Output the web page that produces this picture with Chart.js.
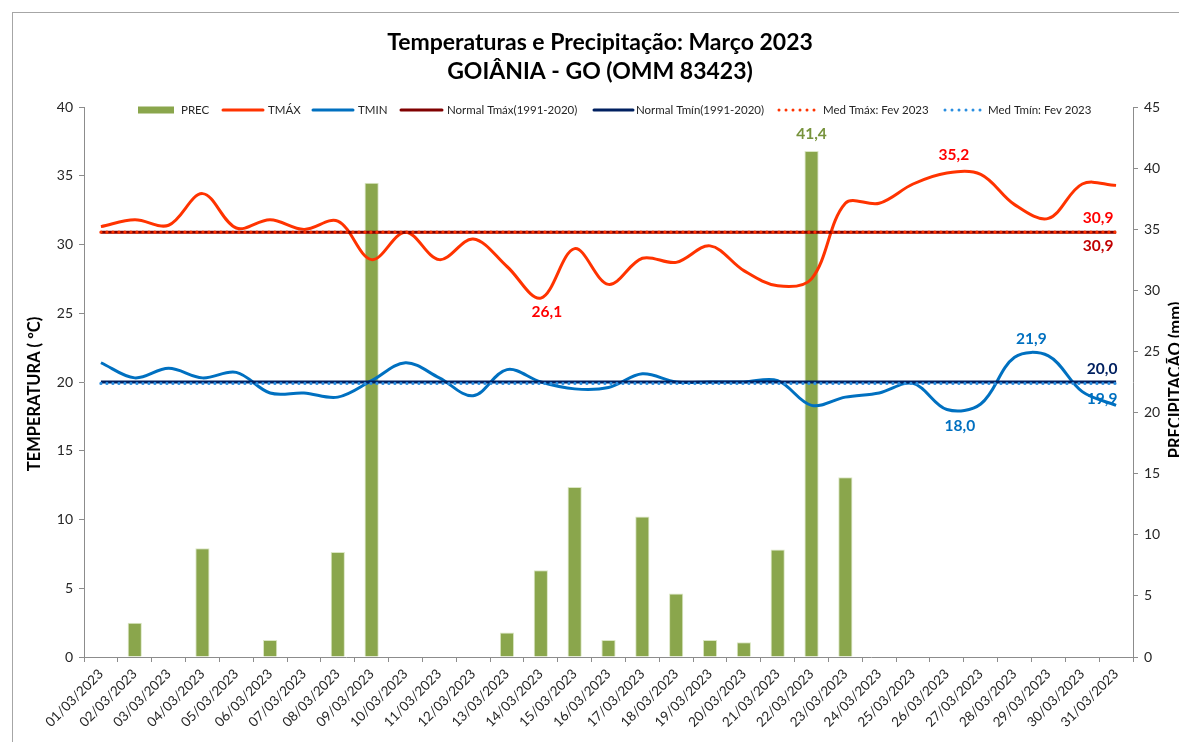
<!DOCTYPE html>
<html>
<head>
<meta charset="utf-8">
<title>Temperaturas e Precipitação: Março 2023</title>
<script src="https://cdn.jsdelivr.net/npm/chart.js@4.4.0/dist/chart.umd.min.js"></script>
<style>
  html, body { margin: 0; padding: 0; background: #fff; }
  #wrap { width: 1179px; height: 742px; }
</style>
</head>
<body>
<div id="wrap"><canvas id="chart" width="1179" height="742"></canvas></div>
<script>
// ── Data ─────────────────────────────────────────────────────────────────────
const DAYS = [
  '01/03/2023','02/03/2023','03/03/2023','04/03/2023','05/03/2023','06/03/2023',
  '07/03/2023','08/03/2023','09/03/2023','10/03/2023','11/03/2023','12/03/2023',
  '13/03/2023','14/03/2023','15/03/2023','16/03/2023','17/03/2023','18/03/2023',
  '19/03/2023','20/03/2023','21/03/2023','22/03/2023','23/03/2023','24/03/2023',
  '25/03/2023','26/03/2023','27/03/2023','28/03/2023','29/03/2023','30/03/2023',
  '31/03/2023'
];
// precipitation, mm (right axis)
const PREC = [0, 2.8, 0, 8.9, 0, 1.4, 0, 8.6, 38.8, 0, 0, 0, 2.0, 7.1, 13.9, 1.4,
              11.5, 5.2, 1.4, 1.2, 8.8, 41.4, 14.7, 0, 0, 0, 0, 0, 0, 0, 0];
// daily max / min temperature, °C (left axis)
const TMAX = [31.3, 31.8, 31.4, 33.7, 31.2, 31.8, 31.1, 31.7, 28.9, 30.9, 28.9, 30.4,
              28.4, 26.1, 29.7, 27.1, 29.0, 28.7, 29.9, 28.1, 27.0, 27.5, 33.0, 33.0,
              34.4, 35.2, 35.1, 32.9, 31.9, 34.4, 34.3];
const TMIN = [21.4, 20.3, 21.0, 20.3, 20.7, 19.2, 19.2, 18.9, 20.1, 21.4, 20.3, 19.0,
              20.9, 20.0, 19.5, 19.6, 20.6, 20.0, 20.0, 20.0, 20.1, 18.3, 18.9, 19.2,
              19.9, 18.0, 18.4, 21.8, 21.9, 19.3, 18.3];
// reference levels
const NORMAL_TMAX = 30.9;   // Normal Tmáx (1991-2020)
const NORMAL_TMIN = 20.0;   // Normal Tmín (1991-2020)
const MED_TMAX    = 30.9;   // Med Tmáx: Fev 2023
const MED_TMIN    = 19.9;   // Med Tmín: Fev 2023
const TEMP_TICKS  = [0, 5, 10, 15, 20, 25, 30, 35, 40];
const PREC_TICKS  = [0, 5, 10, 15, 20, 25, 30, 35, 40, 45];

// ── Styles ───────────────────────────────────────────────────────────────────
const FONT = 'Lato, "Open Sans", sans-serif';
const AXIS_GREY = '#8c8c8c';
const TEXT = '#262626';
const C = {
  prec: '#8aa64c', precEdge: '#dbe7c4',
  tmax: '#ff3300', tmin: '#0070c0',
  normMax: '#800000', normMin: '#002060',
  medMax: '#ff3300', medMin: '#2a8ee0'
};

const flat = v => DAYS.map(() => v);
const fmt = v => v.toFixed(1).replace('.', ',');

// ── Decorations: frame, titles, legend, value labels ─────────────────────────
const decor = {
  id: 'decor',
  beforeDraw(chart) {
    const g = chart.ctx;
    g.save();
    g.strokeStyle = '#a6a6a6';
    g.lineWidth = 1;
    g.strokeRect(12.5, 12.5, 1400, 1000);
    g.restore();
  },
  afterDatasetsDraw(chart) {
    const g = chart.ctx;
    const x = chart.scales.x, yT = chart.scales.yTemp, yP = chart.scales.yPrec;
    const last = DAYS.length - 1;
    const iPrecMax = PREC.indexOf(Math.max(...PREC));
    const iTmaxMax = TMAX.indexOf(Math.max(...TMAX));
    const iTmaxMin = TMAX.indexOf(Math.min(...TMAX));
    const iTminMax = TMIN.indexOf(Math.max(...TMIN));
    const iTminMin = TMIN.indexOf(Math.min(...TMIN));
    const labels = [
      { t: fmt(PREC[iPrecMax]), x: x.getPixelForValue(iPrecMax), y: yP.getPixelForValue(PREC[iPrecMax]) - 17, c: '#77933c' },
      { t: fmt(TMAX[iTmaxMin]), x: x.getPixelForValue(iTmaxMin) + 6, y: yT.getPixelForValue(TMAX[iTmaxMin]) + 14, c: '#ff0000' },
      { t: fmt(TMAX[iTmaxMax]), x: x.getPixelForValue(iTmaxMax) + 7, y: yT.getPixelForValue(TMAX[iTmaxMax]) - 18, c: '#ff0000' },
      { t: fmt(MED_TMAX), x: x.getPixelForValue(last) - 18, y: yT.getPixelForValue(MED_TMAX) - 14, c: '#ff0000' },
      { t: fmt(NORMAL_TMAX), x: x.getPixelForValue(last) - 18, y: yT.getPixelForValue(NORMAL_TMAX) + 14, c: '#c00000' },
      { t: fmt(TMIN[iTminMax]), x: x.getPixelForValue(iTminMax) - 17, y: yT.getPixelForValue(TMIN[iTminMax]) - 17, c: '#0070c0' },
      { t: fmt(TMIN[iTminMin]), x: x.getPixelForValue(iTminMin) + 13, y: yT.getPixelForValue(TMIN[iTminMin]) + 16, c: '#0070c0' },
      { t: fmt(NORMAL_TMIN), x: x.getPixelForValue(last) - 14, y: yT.getPixelForValue(NORMAL_TMIN) - 13, c: '#002060' },
      { t: fmt(MED_TMIN), x: x.getPixelForValue(last) - 14, y: yT.getPixelForValue(MED_TMIN) + 16, c: '#0070c0' }
    ];
    g.save();
    g.font = 'bold 15.5px ' + FONT;
    g.textAlign = 'center';
    g.textBaseline = 'middle';
    labels.forEach(l => { g.fillStyle = l.c; g.fillText(l.t, l.x, l.y); });
    g.restore();
  },
  afterDraw(chart) {
    const g = chart.ctx;
    g.save();
    // titles
    g.fillStyle = '#000';
    g.textAlign = 'center';
    g.textBaseline = 'middle';
    g.font = 'bold 23px ' + FONT;
    g.fillText('Temperaturas e Precipitação: Março 2023', 600, 43);
    g.fillText('GOIÂNIA - GO (OMM 83423)', 600, 72);

    // axis titles
    g.font = 'bold 16.5px ' + FONT;
    g.save();
    g.translate(35, 394); g.rotate(-Math.PI / 2);
    g.fillText('TEMPERATURA ( ºC)', 0, 0);
    g.restore();
    g.save();
    g.translate(1176, 380); g.rotate(-Math.PI / 2);
    g.fillText('PRECIPITAÇÃO (mm)', 0, 0);
    g.restore();

    // legend
    const ly = 110;
    const items = [
      { t: 'PREC', k: 'box', c: C.prec, x0: 138, x1: 174, tx: 181 },
      { t: 'TMÁX', k: 'line', c: C.tmax, x0: 223, x1: 263, tx: 268 },
      { t: 'TMIN', k: 'line', c: C.tmin, x0: 313, x1: 353, tx: 358 },
      { t: 'Normal Tmáx(1991-2020)', k: 'line', c: C.normMax, x0: 401, x1: 442, tx: 447 },
      { t: 'Normal Tmín(1991-2020)', k: 'line', c: C.normMin, x0: 594, x1: 633, tx: 636 },
      { t: 'Med Tmáx: Fev 2023', k: 'dot', c: C.medMax, x0: 779, x1: 816, tx: 823 },
      { t: 'Med Tmín: Fev 2023', k: 'dot', c: C.medMin, x0: 945, x1: 982, tx: 988 }
    ];
    g.textAlign = 'left';
    g.font = '11.5px ' + FONT;
    items.forEach(it => {
      if (it.k === 'box') {
        g.fillStyle = it.c;
        g.fillRect(it.x0, ly - 3.5, it.x1 - it.x0, 7);
      } else {
        g.strokeStyle = it.c;
        g.lineWidth = 3;
        g.lineCap = 'round';
        g.setLineDash(it.k === 'dot' ? [0, 7] : []);
        g.beginPath(); g.moveTo(it.x0, ly); g.lineTo(it.x1, ly); g.stroke();
        g.setLineDash([]);
      }
      g.fillStyle = TEXT;
      g.fillText(it.t, it.tx, ly + 0.5);
    });
    g.restore();
  }
};

// ── Chart ────────────────────────────────────────────────────────────────────
const lineBase = { type: 'line', yAxisID: 'yTemp', pointRadius: 0, fill: false };

new Chart(document.getElementById('chart'), {
  type: 'bar',
  data: {
    labels: DAYS,
    datasets: [
      { type: 'bar', label: 'PREC', data: PREC, yAxisID: 'yPrec', order: 10,
        backgroundColor: C.prec, borderColor: C.precEdge,
        borderWidth: c => (c.raw ? 1 : 0), borderSkipped: 'bottom',
        categoryPercentage: 1, barPercentage: 0.42 },
      { ...lineBase, label: 'TMÁX', data: TMAX, order: 7,
        borderColor: C.tmax, borderWidth: 3, tension: 0.35 },
      { ...lineBase, label: 'TMIN', data: TMIN, order: 6,
        borderColor: C.tmin, borderWidth: 3, tension: 0.35 },
      { ...lineBase, label: 'Normal Tmáx(1991-2020)', data: flat(NORMAL_TMAX), order: 5,
        borderColor: C.normMax, borderWidth: 3 },
      { ...lineBase, label: 'Normal Tmín(1991-2020)', data: flat(NORMAL_TMIN), order: 4,
        borderColor: C.normMin, borderWidth: 3 },
      { ...lineBase, label: 'Med Tmáx: Fev 2023', data: flat(MED_TMAX), order: 3,
        borderColor: C.medMax, borderWidth: 3.2, borderDash: [0, 6], borderCapStyle: 'round' },
      { ...lineBase, label: 'Med Tmín: Fev 2023', data: flat(MED_TMIN), order: 2,
        borderColor: C.medMin, borderWidth: 3.2, borderDash: [0, 6], borderCapStyle: 'round' }
    ]
  },
  options: {
    responsive: false,
    animation: false,
    layout: { padding: { top: 107, left: 0, right: 0, bottom: 0 } },
    plugins: { legend: { display: false }, tooltip: { enabled: false }, title: { display: false } },
    scales: {
      x: {
        offset: true,
        grid: { offset: true, drawOnChartArea: false, drawTicks: true, tickLength: 5, color: AXIS_GREY },
        border: { color: AXIS_GREY, width: 1 },
        ticks: { autoSkip: false, maxRotation: 45, minRotation: 45, padding: 4,
                 color: TEXT, font: { family: FONT, size: 13.5 } },
        afterFit: s => { s.height = 85; }
      },
      yTemp: {
        position: 'left', min: 0, max: 40,
        afterBuildTicks: s => { s.ticks = TEMP_TICKS.map(v => ({ value: v })); },
        grid: { drawOnChartArea: false, tickLength: 5, color: AXIS_GREY },
        border: { color: AXIS_GREY, width: 1 },
        ticks: { padding: 6, color: TEXT, font: { family: FONT, size: 14 } },
        afterFit: s => { s.width = 84; }
      },
      yPrec: {
        position: 'right', min: 0, max: 45,
        afterBuildTicks: s => { s.ticks = PREC_TICKS.map(v => ({ value: v })); },
        grid: { drawOnChartArea: false, tickLength: 5, color: AXIS_GREY },
        border: { color: AXIS_GREY, width: 1 },
        ticks: { padding: 6, color: TEXT, font: { family: FONT, size: 14 } },
        afterFit: s => { s.width = 46; }
      }
    }
  },
  plugins: [decor]
});
</script>
</body>
</html>
